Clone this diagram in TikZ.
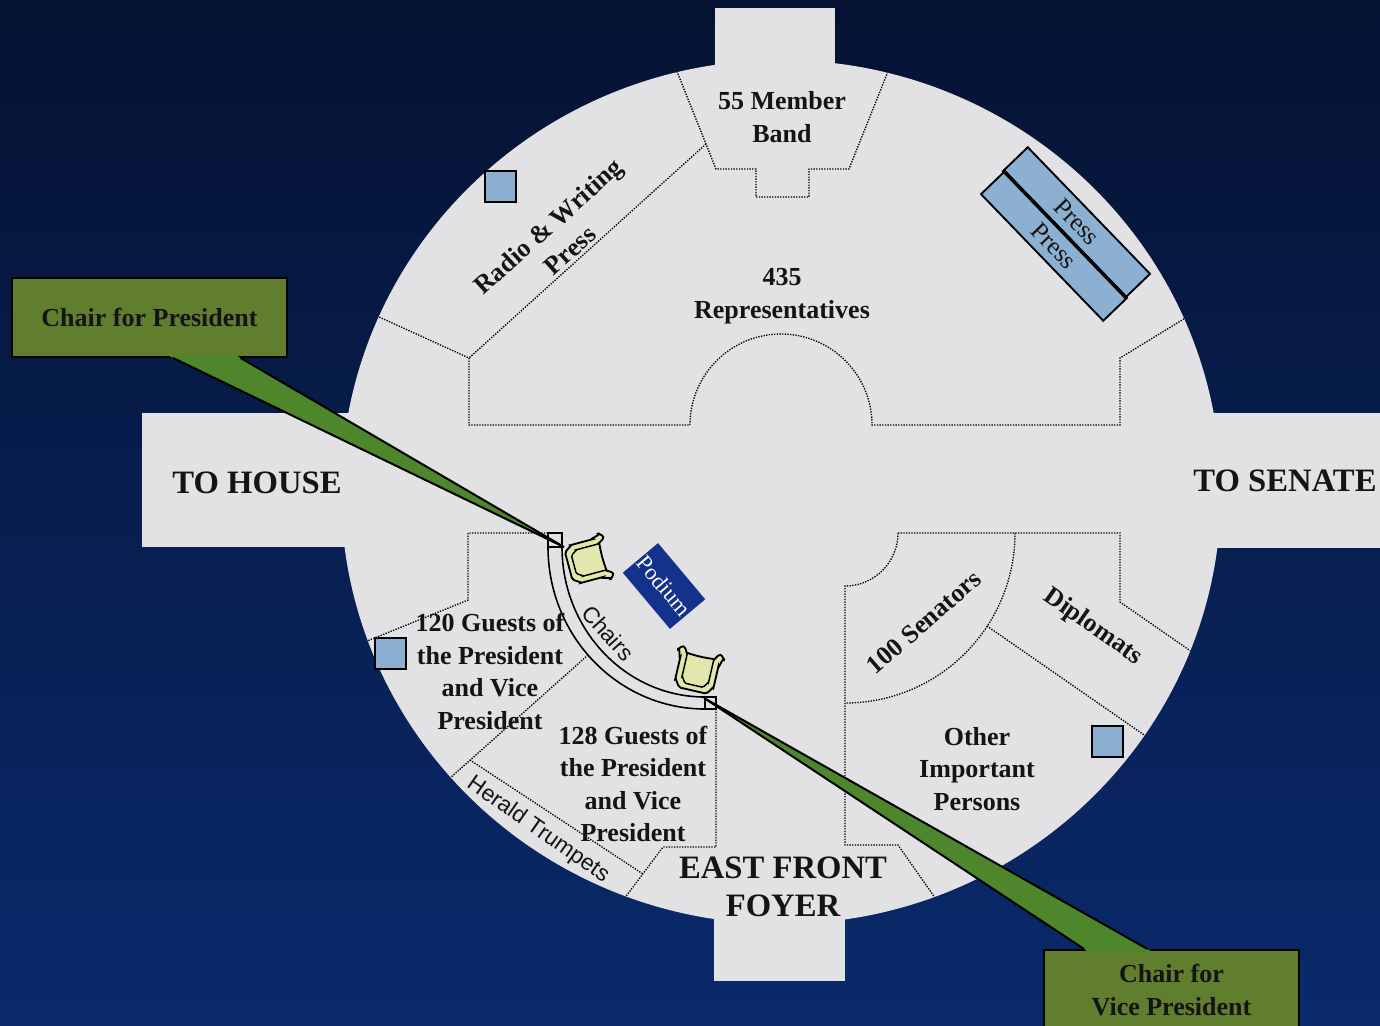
\documentclass[tikz,border=0pt]{standalone}
\usepackage{fontspec}
\setmainfont{Liberation Serif}
\setsansfont{Liberation Sans}
\usetikzlibrary{calc}
\definecolor{floorc}{RGB}{226,226,228}
\definecolor{bgtop}{RGB}{5,18,50}
\definecolor{bgbot}{RGB}{10,42,108}
\definecolor{boxblue}{RGB}{140,176,210}
\definecolor{podiumc}{RGB}{20,50,140}
\definecolor{chairc}{RGB}{226,232,172}
\definecolor{calloutgreen}{RGB}{96,126,46}
\definecolor{wedgegreen}{RGB}{78,134,44}
\definecolor{inkc}{RGB}{20,20,20}
\newcommand{\lblfont}{\bfseries\fontsize{19.5}{24.3}\selectfont}
\newcommand{\bigfont}{\bfseries\fontsize{24.5}{28.5}\selectfont}
\begin{document}
\begin{tikzpicture}[x=0.75pt,y=-0.75pt,
  zone/.style={draw=black, line width=1pt, dash pattern=on 1pt off 1pt},
  bandline/.style={draw=black, line width=1.2pt},
  lbl/.style={font=\lblfont, align=center, text=inkc, inner sep=0pt},
  biglbl/.style={font=\bigfont, align=center, text=inkc, inner sep=0pt},
  sanslbl/.style={font=\sffamily\fontsize{17}{20}\selectfont, text=inkc, inner sep=0pt},
  sq/.style={fill=boxblue, draw=black, line width=1.4pt, minimum size=23.5pt, inner sep=0pt},
  pressbox/.style={fill=boxblue, draw=black, line width=1.4pt, minimum width=132pt, minimum height=24.75pt, inner sep=0pt, font=\fontsize{19}{22}\selectfont, text=inkc},
  podiumbox/.style={fill=podiumc, text=white, inner sep=0pt, minimum width=55pt, minimum height=34.5pt, font=\fontsize{17}{20}\selectfont},
  callout/.style={fill=calloutgreen, draw=black, line width=1.4pt, font=\lblfont, align=center, text=inkc, inner sep=0pt},
  wedgeline/.style={draw=black, line width=1.5pt, line join=miter},
  chairstyle/.style={fill=chairc, draw=black, line width=1.4pt},
  armchair/.pic={
    \begin{scope}[yscale=-1, scale=20]
      \filldraw[chairstyle] (-1.18,0.92) to[out=-70,in=95] (-0.98,0.5) -- (-0.98,-0.6)
        to[out=-90,in=180] (-0.62,-0.95) -- (0.62,-0.95) to[out=0,in=-90] (0.98,-0.6)
        -- (0.98,0.5) to[out=85,in=-110] (1.18,0.92) to[out=70,in=0] (0.95,1.1)
        to[out=180,in=85] (0.68,0.82) to[out=175,in=5] (-0.68,0.82)
        to[out=95,in=0] (-0.95,1.1) to[out=180,in=110] (-1.18,0.92) -- cycle;
      \draw[line width=1.1pt] (-0.68,0.82) -- (-0.68,-0.4) to[out=-90,in=180] (-0.4,-0.68)
        -- (0.4,-0.68) to[out=0,in=-90] (0.68,-0.4) -- (0.68,0.82);
    \end{scope}
  }
]
% background
\shade[top color=bgtop, bottom color=bgbot] (0,0) rectangle (1380,1025);
\useasboundingbox (0,0) rectangle (1380,1025);

% floor
\fill[floorc] (781,492) ellipse (440 and 432);
\fill[floorc] (715,8) rectangle (835,120);
\fill[floorc] (714,860) rectangle (845,981);
\fill[floorc] (142,413) rectangle (420,547);
\fill[floorc] (1150,413) rectangle (1380,548);

% seating zones
\begin{scope}
  \clip (781,492) ellipse (440 and 432);
  \draw[zone] (670,54) -- (716,169) -- (756,169) -- (756,197) -- (809,197) -- (809,169) -- (849,169) -- (895,54);
  \draw[zone] (706,144) -- (469,358);
  \draw[zone] (355,306) -- (469,358) -- (469,425) -- (690,425) arc[start angle=180,end angle=360,radius=91] -- (1120,425) -- (1120,358) -- (1205,306);
  \draw[zone] (548,533) -- (468,533) -- (468,600) -- (345,650);
  \draw[zone] (588,655) -- (440,787);
  \draw[zone] (470,760) -- (643,874);
  \draw[zone] (716,709) -- (716,847) -- (663,847) -- (615,911);
  \draw[zone] (898,533) -- (1120,533) -- (1120,602) -- (1205,661);
  \draw[zone] (898,533) arc[start angle=0,end angle=90,radius=53] -- (845,845) -- (898,845) -- (945,912);
  \draw[zone] (1015,533) arc[start angle=0,end angle=90,radius=170];
  \draw[zone] (987,626) -- (1160,746);
\end{scope}

% chairs band
\draw[bandline] (548,533) -- (548,547) arc[start angle=180,end angle=90,x radius=157,y radius=162]
  -- (716,709) -- (716,697) -- (705,697) arc[start angle=90,end angle=180,x radius=143,y radius=150]
  -- (562,533) -- cycle;
\draw[bandline] (548,547) -- (562,547);
\draw[bandline] (705,697) -- (705,709);

% podium, press, squares
\node[podiumbox, rotate=-50] (podium) at (664,586) {Podium};
\node[pressbox, rotate=-46] (press1) at (1077,222) {Press};
\node[pressbox, rotate=-46] (press2) at (1054,246) {Press};
\draw[line width=2.4pt] (press1.south west) -- (press1.south east);
\node[sq] (sq1) at (500.5,186.5) {};
\node[sq] (sq2) at (390.5,653.5) {};
\node[sq] (sq3) at (1107.5,741.5) {};

% labels
\node[lbl] (band) at (782,117) {55 Member\\Band};
\node[lbl] (reps) at (782,296) {435\\Representatives};
\node[lbl, rotate=42] (radio) at (559,238) {Radio \& Writing\\Press};
\node[biglbl] (house) at (257,483) {TO HOUSE};
\node[biglbl] (senate) at (1285,481) {TO SENATE};
\node[biglbl] (foyer) at (783,887) {EAST FRONT\\FOYER};
\node[lbl] (g120) at (490,671.5) {120 Guests of\\the President\\and Vice\\President};
\node[lbl] (g128) at (633,784) {128 Guests of\\the President\\and Vice\\President};
\node[lbl] (other) at (977,769) {Other\\Important\\Persons};
\node[lbl, rotate=41] (senators) at (924,622) {100 Senators};
\node[lbl, rotate=-35] (diplomats) at (1093,627) {Diplomats};
\node[sanslbl, rotate=-35] (herald) at (538,830) {Herald Trumpets};
\node[sanslbl, rotate=-48] (chairslbl) at (608,633) {Chairs};

% callouts
\coordinate (ptip) at (564,547);
\coordinate (vtip) at (704,698);
\node[callout, minimum width=206.25pt, minimum height=59.25pt] (cpres) at (149.5,317.5) {Chair for President};
\node[callout, minimum width=191.25pt, minimum height=60pt] (cvp) at (1171.5,990) {Chair for\\Vice President};
\coordinate (pb1) at ($(cpres.south west)!0.585!(cpres.south east)$);
\coordinate (pb2) at ($(cpres.south west)!0.829!(cpres.south east)$);
\coordinate (vb1) at ($(cvp.north west)!0.160!(cvp.north east)$);
\coordinate (vb2) at ($(cvp.north west)!0.407!(cvp.north east)$);
\fill[wedgegreen] ($(ptip)!1.015!(pb1)$) -- (ptip) -- ($(ptip)!1.015!(pb2)$) -- cycle;
\draw[wedgeline] (pb1) -- (ptip) -- (pb2);
\fill[wedgegreen] ($(vtip)!1.015!(vb1)$) -- (vtip) -- ($(vtip)!1.015!(vb2)$) -- cycle;
\draw[wedgeline] (vb1) -- (vtip) -- (vb2);

% chairs
\pic[rotate=-75] (chair1) at (587,561) {armchair};
\pic[rotate=-13] (chair2) at (697,672) {armchair};
\end{tikzpicture}
\end{document}
